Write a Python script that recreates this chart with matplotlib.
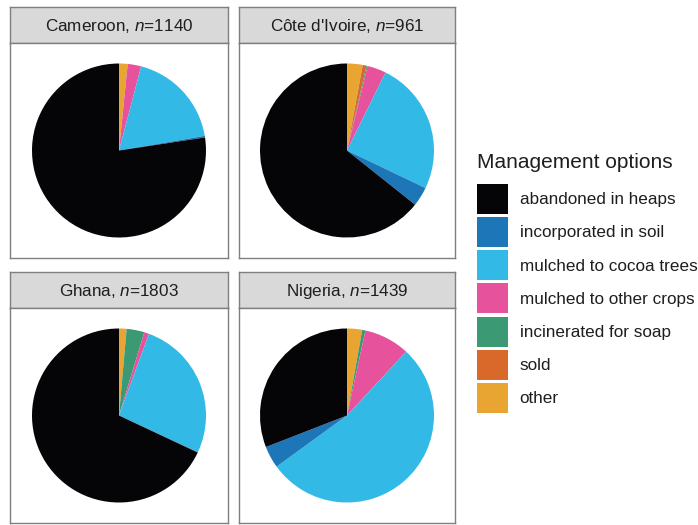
import matplotlib
matplotlib.use("Agg")
import matplotlib.pyplot as plt
from matplotlib.patches import Patch

plt.rcParams['font.family'] = ['Liberation Sans', 'DejaVu Sans']
plt.rcParams['mathtext.fontset'] = 'custom'
plt.rcParams['mathtext.rm'] = 'Liberation Sans'
plt.rcParams['mathtext.it'] = 'Liberation Sans:italic'

# management options in legend order
options = ['abandoned in heaps', 'incorporated in soil', 'mulched to cocoa trees',
           'mulched to other crops', 'incinerated for soap', 'sold', 'other']
colors = ['#050508', '#1d76b8', '#33b9e6', '#e6539c', '#3b9a74', '#d8692a', '#e8a532']

countries = ['Cameroon', "Côte d'Ivoire", 'Ghana', 'Nigeria']
n_obs = [1140, 961, 1803, 1439]

# shares (%) in legend order
cameroon = [77.4, 0.3, 18.2, 2.5, 0.0, 0.0, 1.6]
cote_divoire = [64.3, 3.6, 24.8, 3.5, 0.2, 0.7, 2.9]
ghana = [68.0, 0.1, 26.3, 0.9, 3.3, 0.0, 1.4]
nigeria = [30.9, 4.1, 53.1, 8.5, 0.6, 0.0, 2.8]
shares = [cameroon, cote_divoire, ghana, nigeria]

W, H = 698, 525
fig = plt.figure(figsize=(W / 100, H / 100), dpi=100)


def box(x0, y0, x1, y1):
    return [x0 / W, 1 - y1 / H, (x1 - x0) / W, (y1 - y0) / H]


cols = [(10, 228), (239, 455)]
rows = [((7, 43), (43, 258)), ((272, 308), (308, 523))]
R = 87.0
grey = '#7f7f7f'
txt = '#1e1e1e'

for i, country in enumerate(countries):
    x0, x1 = cols[i % 2]
    (s0, s1), (b0, b1) = rows[i // 2]

    # strip
    sx = fig.add_axes(box(x0, s0, x1, s1))
    sx.set_facecolor('#d9d9d9')
    sx.set_xticks([])
    sx.set_yticks([])
    for sp in sx.spines.values():
        sp.set_color(grey)
        sp.set_linewidth(1.0)
    sx.text(0.5, 0.47, country + ', $n$=' + str(n_obs[i]), ha='center', va='center',
            fontsize=12.3, color=txt, transform=sx.transAxes)

    # pie panel
    ax = fig.add_axes(box(x0, b0, x1, b1))
    vals = shares[i][::-1]
    cols_rev = colors[::-1]
    ax.pie(vals, colors=cols_rev, startangle=90, counterclock=False,
           wedgeprops=dict(linewidth=0, edgecolor='none'))
    ax.set_aspect('auto')
    ax.set_xlim(-(x1 - x0) / 2 / R, (x1 - x0) / 2 / R)
    ax.set_ylim(-(b1 - b0) / 2 / R, (b1 - b0) / 2 / R)
    ax.set_frame_on(True)
    for sp in ax.spines.values():
        sp.set_color(grey)
        sp.set_linewidth(1.0)

# legend title as separate text, keys below it
fig.text(477 / W, 1 - 163 / H, 'Management options', ha='left', va='center',
         fontsize=15, color=txt)
handles = [Patch(facecolor=c, edgecolor='none') for c in colors]
leg = fig.legend(handles, options, loc='upper left',
                 bbox_to_anchor=(477 / W, 1 - 184 / H),
                 frameon=False, fontsize=12.3,
                 handlelength=1.8, handleheight=2.33, labelspacing=0.18,
                 handletextpad=0.7, borderpad=0, borderaxespad=0)
for t in leg.get_texts():
    t.set_color(txt)

fig.savefig('out.png', dpi=100, facecolor='white')
